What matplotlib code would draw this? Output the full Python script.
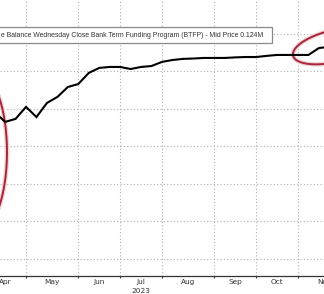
import matplotlib
matplotlib.use("Agg")
import matplotlib.pyplot as plt
import matplotlib.dates as mdates
from matplotlib.lines import Line2D
from matplotlib.patches import Rectangle
import numpy as np
import datetime as dt

# weekly BTFP balance (Wednesday close), $bn
dates = ["2023-04-12", "2023-04-19", "2023-04-26", "2023-05-03", "2023-05-10",
         "2023-05-17", "2023-05-24", "2023-05-31", "2023-06-07", "2023-06-14",
         "2023-06-21", "2023-06-28", "2023-07-05", "2023-07-12", "2023-07-19",
         "2023-07-26", "2023-08-02", "2023-08-09", "2023-08-16", "2023-08-23",
         "2023-08-30", "2023-09-06", "2023-09-13", "2023-09-20", "2023-09-27",
         "2023-10-04", "2023-10-11", "2023-10-18", "2023-10-25", "2023-11-01",
         "2023-11-08", "2023-11-15", "2023-11-22"]
balance = [78.4, 73.1, 74.7, 81.1, 75.7,
           83.2, 86.4, 91.7, 93.3, 99.2,
           101.9, 102.4, 102.4, 101.3, 102.4,
           102.9, 105.1, 106.1, 106.7, 106.9,
           107.2, 107.2, 107.2, 107.5, 107.7,
           107.7, 108.3, 108.8, 108.8, 108.8,
           108.8, 112.5, 113.1]

# first Wednesday of each month -> grid lines
grid_dates = ["2023-04-05", "2023-05-03", "2023-06-07", "2023-07-05", "2023-08-02",
              "2023-09-06", "2023-10-04", "2023-11-01", "2023-12-06"]
month_labels = ["Apr", "May", "Jun", "Jul", "Aug", "Sep", "Oct", "Nov"]
legend_text = "e Balance Wednesday Close Bank Term Funding Program (BTFP) - Mid Price 0.124M"

W, H = 324, 294
fig = plt.figure(figsize=(W / 100, H / 100), dpi=100)
ax = fig.add_axes([0, (H - 276) / H, 1, 276 / H])

x = [mdates.date2num(dt.date.fromisoformat(d)) for d in dates]
gx = [mdates.date2num(dt.date.fromisoformat(d)) for d in grid_dates]
mid = [(a + b) / 2 for a, b in zip(gx[:-1], gx[1:])]

ax.plot(x, balance, color="black", lw=1.5, solid_joinstyle="miter", zorder=4)

ax.set_xticks(gx)
ax.set_xticklabels([])
ax.tick_params(axis="x", which="major", length=1.5, color="#444444")
ax.set_yticks(np.arange(0, 140, 20))
ax.tick_params(axis="y", length=0, labelleft=False)
ax.grid(True, which="major", color="#b0b0b0", lw=0.8, ls=(0, (1, 2)))

days = 26 / (272 / 182)
ax.set_xlim(gx[1] - days, gx[7] + days)
ax.set_ylim(-9.07, 138.1)

for s in ["left", "right", "top"]:
    ax.spines[s].set_visible(False)
ax.spines["bottom"].set_color("#333333")
ax.spines["bottom"].set_linewidth(0.9)

# month labels centred between grid lines (Nov runs off the edge)
for m, lab in zip(mid, month_labels):
    ax.text(m, -0.01, lab, transform=ax.get_xaxis_transform(), ha="center", va="top",
            fontsize=5.3, color="#333333", clip_on=False)
ax.text(mid[3], -0.045, "2023", transform=ax.get_xaxis_transform(),
        ha="center", va="top", fontsize=5.3, color="#333333")

# legend box
fig.add_artist(Rectangle((-5 / W, 1 - 43 / H), 277 / W, 16 / H, transform=fig.transFigure,
                         facecolor="white", edgecolor="#8a8a8a", lw=0.9, zorder=5))
fig.text(1 / W, 1 - 35.5 / H, legend_text, ha="left", va="center", fontsize=4.95,
         family="Liberation Sans", color="#333333", zorder=6)


# hand-drawn red circles (pixel space)
def ring(cx, cy, a, b, ang):
    t = np.linspace(0, 2 * np.pi, 200)
    r = np.deg2rad(ang)
    px = cx + a * np.cos(t) * np.cos(r) - b * np.sin(t) * np.sin(r)
    py = cy - a * np.cos(t) * np.sin(r) - b * np.sin(t) * np.cos(r)
    return px / W, 1 - py / H


for cx, cy, a, b, ang in [(-23, 152, 30, 81, 0), (335, 46, 43, 16, 13)]:
    px, py = ring(cx, cy, a, b, ang)
    ax.add_line(Line2D(px, py, transform=fig.transFigure, color="#f3d0d4", lw=3.2,
                       zorder=3, clip_on=False))
    ax.add_line(Line2D(px, py, transform=fig.transFigure, color="#a3283b", lw=1.4,
                       zorder=3.5, clip_on=False))

fig.savefig("out.png", dpi=100)
